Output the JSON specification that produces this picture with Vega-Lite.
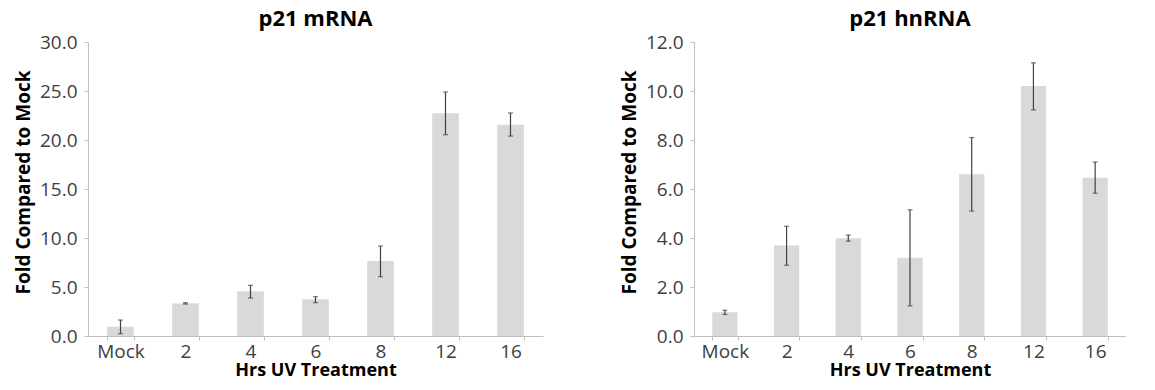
{
  "$schema": "https://vega.github.io/schema/vega-lite/v6.json",
  "padding": {"left": 13, "top": 8, "right": 0, "bottom": 0},
  "background": "white",
  "datasets": {
    "mrna": [
      {"hrs": "Mock", "fold": 0.95, "lo": 0.24, "hi": 1.63},
      {"hrs": "2", "fold": 3.33, "lo": 3.26, "hi": 3.40},
      {"hrs": "4", "fold": 4.56, "lo": 3.88, "hi": 5.17},
      {"hrs": "6", "fold": 3.74, "lo": 3.40, "hi": 4.01},
      {"hrs": "8", "fold": 7.65, "lo": 6.05, "hi": 9.18},
      {"hrs": "12", "fold": 22.72, "lo": 20.54, "hi": 24.9},
      {"hrs": "16", "fold": 21.56, "lo": 20.4, "hi": 22.76}
    ],
    "hnrna": [
      {"hrs": "Mock", "fold": 0.97, "lo": 0.88, "hi": 1.05},
      {"hrs": "2", "fold": 3.69, "lo": 2.89, "hi": 4.48},
      {"hrs": "4", "fold": 3.99, "lo": 3.87, "hi": 4.12},
      {"hrs": "6", "fold": 3.19, "lo": 1.23, "hi": 5.15},
      {"hrs": "8", "fold": 6.6, "lo": 5.1, "hi": 8.1},
      {"hrs": "12", "fold": 10.2, "lo": 9.23, "hi": 11.15},
      {"hrs": "16", "fold": 6.46, "lo": 5.83, "hi": 7.1}
    ]
  },
  "config": {
    "view": {"stroke": null},
    "font": "Open Sans",
    "axis": {
      "domainColor": "#bfbfbf",
      "tickColor": "#bfbfbf",
      "labelColor": "#404040",
      "labelFont": "Open Sans",
      "labelFontSize": 19,
      "titleFont": "Open Sans",
      "titleFontSize": 18,
      "titleFontWeight": "bold",
      "titleColor": "#000000",
      "grid": false,
      "tickSize": 4
    },
    "title": {"font": "Open Sans", "fontSize": 22, "fontWeight": "bold", "color": "#000000", "anchor": "middle"},
    "concat": {"spacing": 151}
  },
  "bounds": "flush",
  "hconcat": [
    {
      "title": {"text": "p21 mRNA", "offset": 2},
      "width": 455,
      "height": 294,
      "data": {"name": "mrna"},
      "encoding": {
        "x": {
          "field": "hrs", "type": "nominal", "sort": null,
          "scale": {"paddingInner": 0.59, "paddingOuter": 0.295},
          "axis": {"title": "Hrs UV Treatment", "labelAngle": 0, "tickBand": "extent", "labelPadding": 2, "titlePadding": 0}
        }
      },
      "layer": [
        {
          "mark": {"type": "bar", "color": "#d9d9d9"},
          "encoding": {
            "y": {
              "field": "fold", "type": "quantitative",
              "scale": {"domain": [0, 30], "nice": false},
              "axis": {"title": "Fold Compared to Mock", "values": [0, 5, 10, 15, 20, 25, 30], "format": ".1f", "labelPadding": 7, "titleX": -55, "titleY": 140, "titleFontSize": 19}
            }
          }
        },
        {
          "mark": {"type": "rule", "color": "#404040", "strokeWidth": 1.2},
          "encoding": {"y": {"field": "lo", "type": "quantitative"}, "y2": {"field": "hi"}}
        },
        {
          "mark": {"type": "tick", "color": "#404040", "size": 5, "thickness": 1.2},
          "encoding": {"y": {"field": "lo", "type": "quantitative"}}
        },
        {
          "mark": {"type": "tick", "color": "#404040", "size": 5, "thickness": 1.2},
          "encoding": {"y": {"field": "hi", "type": "quantitative"}}
        }
      ]
    },
    {
      "title": {"text": "p21 hnRNA", "offset": 2},
      "width": 432,
      "height": 294,
      "data": {"name": "hnrna"},
      "encoding": {
        "x": {
          "field": "hrs", "type": "nominal", "sort": null,
          "scale": {"paddingInner": 0.59, "paddingOuter": 0.295},
          "axis": {"title": "Hrs UV Treatment", "labelAngle": 0, "tickBand": "extent", "labelPadding": 2, "titlePadding": 0}
        }
      },
      "layer": [
        {
          "mark": {"type": "bar", "color": "#d9d9d9"},
          "encoding": {
            "y": {
              "field": "fold", "type": "quantitative",
              "scale": {"domain": [0, 12], "nice": false},
              "axis": {"title": "Fold Compared to Mock", "values": [0, 2, 4, 6, 8, 10, 12], "format": ".1f", "labelPadding": 7, "titleX": -55, "titleY": 140, "titleFontSize": 19}
            }
          }
        },
        {
          "mark": {"type": "rule", "color": "#404040", "strokeWidth": 1.2},
          "encoding": {"y": {"field": "lo", "type": "quantitative"}, "y2": {"field": "hi"}}
        },
        {
          "mark": {"type": "tick", "color": "#404040", "size": 5, "thickness": 1.2},
          "encoding": {"y": {"field": "lo", "type": "quantitative"}}
        },
        {
          "mark": {"type": "tick", "color": "#404040", "size": 5, "thickness": 1.2},
          "encoding": {"y": {"field": "hi", "type": "quantitative"}}
        }
      ]
    }
  ]
}
